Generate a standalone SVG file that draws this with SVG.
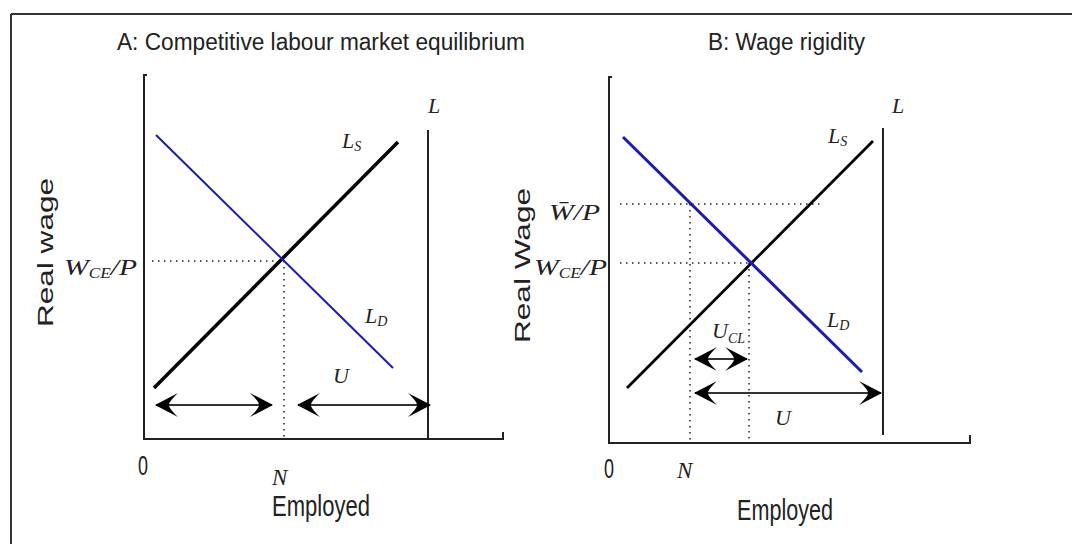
<svg xmlns="http://www.w3.org/2000/svg" width="1072" height="544" viewBox="0 0 1072 544">
<style>
.t{font-family:"Liberation Sans",Arial,sans-serif;fill:#222}
.m{font-family:"Liberation Serif","Times New Roman",serif;font-style:italic;fill:#222}
.ax{stroke:#222;stroke-width:2;fill:none}
.dot{stroke:#222;stroke-width:1.5;stroke-dasharray:1.5 4.5;fill:none}
.ls{stroke:#000;fill:none}
.ld{stroke:#1a1ab4;fill:none}
.arr{stroke:#333;stroke-width:2;fill:none;marker-start:url(#ah);marker-end:url(#ah)}
</style>
<defs>
<marker id="ah" markerUnits="userSpaceOnUse" viewBox="0 0 24 26" refX="23" refY="13" markerWidth="24" markerHeight="26" orient="auto-start-reverse">
<path d="M24,13 L1,1 C6,6 10,10 10,13 C10,16 6,20 1,25 Z" fill="#000"/>
</marker>
</defs>
<rect width="1072" height="544" fill="#fff"/>
<g id="frame">
<path d="M11,14 H1072 M11,14 V544" stroke="#333" stroke-width="2" fill="none"/>
</g>

<g id="panelA">
<text class="t" x="117" y="50" font-size="23" textLength="408" lengthAdjust="spacingAndGlyphs">A: Competitive labour market equilibrium</text>
<path class="ax" d="M147,75 H144 V439 H503 V432"/>
<path class="ax" d="M428,130 V439"/>
<path class="dot" d="M152,261 H284 M284,261 V439"/>
<path class="ls" stroke-width="3.5" d="M154,388 L398,142"/>
<path class="ld" stroke-width="2" d="M156,135 L393,368"/>
<g id="arrowsA">
<path class="arr" d="M156,405 H272"/>
<path class="arr" d="M298,405 H430"/>
</g>
<text class="t" transform="translate(53,252.5) rotate(-90)" text-anchor="middle" font-size="22" textLength="149" lengthAdjust="spacingAndGlyphs">Real wage</text>
<text class="m" x="64" y="275" font-size="24" textLength="73" lengthAdjust="spacingAndGlyphs">W<tspan font-size="14" dy="3">CE</tspan><tspan dy="-3">/P</tspan></text>
<text class="m" x="428" y="113" font-size="22">L</text>
<text class="m" x="342" y="148" font-size="22">L<tspan font-size="14" dy="3">S</tspan></text>
<text class="m" x="365" y="323" font-size="22">L<tspan font-size="14" dy="3">D</tspan></text>
<text class="m" x="333" y="383" font-size="22">U</text>
<text class="t" x="138" y="475" font-size="27" textLength="10" lengthAdjust="spacingAndGlyphs">0</text>
<text class="m" x="272" y="485" font-size="23">N</text>
<text class="t" x="272" y="516" font-size="29" textLength="98" lengthAdjust="spacingAndGlyphs">Employed</text>
</g>

<g id="panelB">
<text class="t" x="708" y="50" font-size="23" textLength="157" lengthAdjust="spacingAndGlyphs">B: Wage rigidity</text>
<path class="ax" d="M612,77 H609 V443 H970 V435"/>
<path class="ax" d="M883,128 V435"/>
<path class="dot" d="M620,204 H822 M620,263 H750 M690,204 V443 M749,263 V443"/>
<path class="ls" stroke-width="2.8" d="M627,388 L873,141"/>
<path class="ld" stroke-width="3" d="M623,137 L862,372"/>
<g id="arrowsB">
<path class="arr" d="M695,359 H747"/>
<path class="arr" d="M695,393 H881"/>
</g>
<text class="t" transform="translate(530,265.5) rotate(-90)" text-anchor="middle" font-size="22" textLength="155" lengthAdjust="spacingAndGlyphs">Real Wage</text>
<text class="m" x="549" y="220" font-size="24" textLength="51" lengthAdjust="spacingAndGlyphs">W̄/P</text>
<text class="m" x="534" y="275" font-size="24" textLength="73" lengthAdjust="spacingAndGlyphs">W<tspan font-size="14" dy="3">CE</tspan><tspan dy="-3">/P</tspan></text>
<text class="m" x="892" y="113" font-size="22">L</text>
<text class="m" x="828" y="143" font-size="22">L<tspan font-size="14" dy="3">S</tspan></text>
<text class="m" x="827" y="327" font-size="22">L<tspan font-size="14" dy="3">D</tspan></text>
<text class="m" x="712" y="338" font-size="22">U<tspan font-size="14" dy="5">CL</tspan></text>
<text class="m" x="775" y="425" font-size="22">U</text>
<text class="t" x="604" y="478" font-size="27" textLength="10" lengthAdjust="spacingAndGlyphs">0</text>
<text class="m" x="677" y="478" font-size="23">N</text>
<text class="t" x="737" y="520" font-size="29" textLength="96" lengthAdjust="spacingAndGlyphs">Employed</text>
</g>
</svg>
